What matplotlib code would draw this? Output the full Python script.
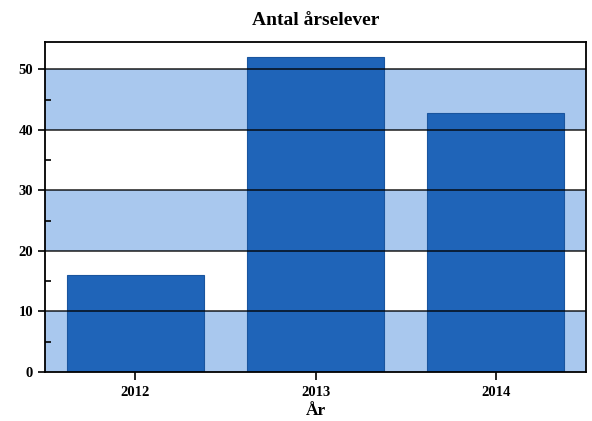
import matplotlib.pyplot as plt
import numpy as np

years = ['2012', '2013', '2014']
students = [16, 52, 42.7]

plt.rcParams['font.family'] = ['Liberation Serif', 'DejaVu Serif']
plt.rcParams['font.weight'] = 'bold'

fig = plt.figure(figsize=(5.92, 4.21), dpi=100)
ax = fig.add_axes([45 / 592, 1 - 372 / 421, 541 / 592, 330 / 421])

x = np.arange(len(years))
ymax = 54.5

# alternating bands
for lo in range(0, 60, 20):
    ax.axhspan(lo, lo + 10, color='#a9c8ee', zorder=0, lw=0)

ax.bar(x, students, width=0.76, color='#1f64b8', edgecolor='#1a559e', lw=0.8, zorder=2)

for y in range(10, 60, 10):
    ax.axhline(y, color='black', lw=1.3, alpha=0.75, zorder=3)

ax.set_xlim(-0.5, 2.5)
ax.set_ylim(0, ymax)
ax.set_xticks(x)
ax.set_xticklabels(years, fontsize=10.5)
ax.set_yticks(range(0, 60, 10))
ax.set_yticks(range(5, 55, 10), minor=True)
ax.tick_params(axis='y', which='major', direction='out', length=5, width=1.2, labelsize=10.5)
ax.tick_params(axis='y', which='minor', direction='in', length=4, width=1.2)
ax.tick_params(axis='x', direction='out', length=6, width=1.2, pad=4)

for s in ax.spines.values():
    s.set_linewidth(1.3)

ax.set_title('Antal årselever', fontsize=14, fontweight='bold', pad=12)
ax.set_xlabel('År', fontsize=12.5, fontweight='bold', labelpad=3)

fig.savefig('out.png', dpi=100)
